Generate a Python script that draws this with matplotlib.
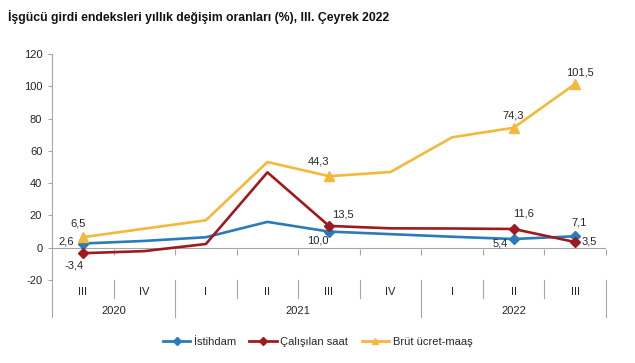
import matplotlib
matplotlib.use("Agg")
from matplotlib import pyplot as plt
from matplotlib.lines import Line2D
import matplotlib.transforms as mtransforms

# data
quarters = ["III", "IV", "I", "II", "III", "IV", "I", "II", "III"]
years = ["2020", "2021", "2022"]
year_spans = [(0, 1), (2, 5), (6, 8)]
istihdam = [2.6, 4.2, 6.5, 16.0, 10.0, 8.4, 6.8, 5.4, 7.1]
calisilan_saat = [-3.4, -2.1, 2.3, 46.7, 13.5, 12.0, 11.9, 11.6, 3.5]
brut_ucret = [6.5, 11.8, 17.0, 53.1, 44.3, 46.9, 68.4, 74.3, 101.5]
labeled_idx = [0, 4, 7, 8]
series_names = ["İstihdam", "Çalışılan saat", "Brüt ücret-maaş"]

BLUE = "#2B7BBA"
RED = "#9E1A1E"
YELLOW = "#F4B83A"
GRAY = "#A6A6A6"
TXT = "#262626"

plt.rcParams["font.family"] = ["Liberation Sans", "DejaVu Sans"]
plt.rcParams["axes.unicode_minus"] = False
fig = plt.figure(figsize=(6.35, 3.63), dpi=100)
ax = fig.add_axes([52 / 635, 83 / 363, 554 / 635, 226 / 363])

x = list(range(len(quarters)))
series = [
    (istihdam, BLUE, "D", 5),
    (calisilan_saat, RED, "D", 5),
    (brut_ucret, YELLOW, "^", 7),
]
for vals, col, mk, ms in series:
    ax.plot(x, vals, color=col, lw=1.9, zorder=3)
    ax.plot([x[i] for i in labeled_idx], [vals[i] for i in labeled_idx],
            ls="none", marker=mk, ms=ms, color=col, zorder=4)

# data labels (offsets in pixels)
offsets = {
    (0, 0): (-17, 2), (0, 4): (-11, -9), (0, 7): (-13, -5), (0, 8): (4, 14),
    (1, 0): (-9, -12), (1, 4): (14, 11), (1, 7): (10, 15), (1, 8): (14, 1),
    (2, 0): (-5, 14), (2, 4): (-10, 15), (2, 7): (-1, 12), (2, 8): (5, 11),
}
for s, (vals, col, mk, ms) in enumerate(series):
    for i in labeled_idx:
        dx, dy = offsets[(s, i)]
        ax.annotate(f"{vals[i]:.1f}".replace(".", ","), (x[i], vals[i]),
                    xytext=(dx, dy), textcoords="offset pixels",
                    ha="center", va="center", fontsize=8, color=TXT, zorder=5)

ax.set_xlim(-0.5, len(quarters) - 0.5)
ax.set_ylim(-20, 120)
ax.set_yticks(range(-20, 121, 20))
ax.tick_params(axis="y", length=3, color=GRAY, labelsize=8, labelcolor=TXT, pad=4)
ax.set_xticks([])
for sp in ["top", "right", "bottom"]:
    ax.spines[sp].set_visible(False)
ax.spines["left"].set_color(GRAY)
ax.spines["left"].set_linewidth(0.8)

# zero line with small ticks at category borders
ax.axhline(0, color=GRAY, lw=0.8, zorder=1)
bounds = [i - 0.5 for i in range(len(quarters) + 1)]
tick_tr = mtransforms.offset_copy(ax.transData, fig=fig, y=-4, units="dots")
for b in bounds[1:]:
    ax.plot([b], [0], marker="|", ms=5, color=GRAY, mew=0.8, transform=tick_tr,
            clip_on=False)

# category axis under the plot
tr = mtransforms.blended_transform_factory(ax.transData, ax.transAxes)
short = -18 / 226
long_ = -37 / 226
year_bounds = [year_spans[0][0] - 0.5] + [e + 0.5 for s, e in year_spans]
for b in bounds:
    low = long_ if b in year_bounds else short
    ax.plot([b, b], [0, low], transform=tr, color=GRAY, lw=0.8, clip_on=False)
for i, q in enumerate(quarters):
    ax.text(i, -12 / 226, q, transform=tr, ha="center", va="center",
            fontsize=8, color=TXT)
for yr, (s, e) in zip(years, year_spans):
    ax.text((s + e) / 2, -31 / 226, yr, transform=tr, ha="center", va="center",
            fontsize=8, color=TXT)

fig.text(8 / 635, 1 - 17 / 363,
         "İşgücü girdi endeksleri yıllık değişim oranları (%), III. Çeyrek 2022",
         fontsize=8.8, fontweight="bold", color="#111111", va="center")

handles = [Line2D([], [], color=c, lw=2, marker=m, ms=4) for _, c, m, _ in series]
fig.legend(handles, series_names, loc="center", bbox_to_anchor=(0.5, 1 - 342 / 363),
           ncol=3, frameon=False, fontsize=8, handlelength=2.5, handletextpad=0.3,
           columnspacing=1.2, labelcolor=TXT)

fig.savefig("out.png", dpi=100)
